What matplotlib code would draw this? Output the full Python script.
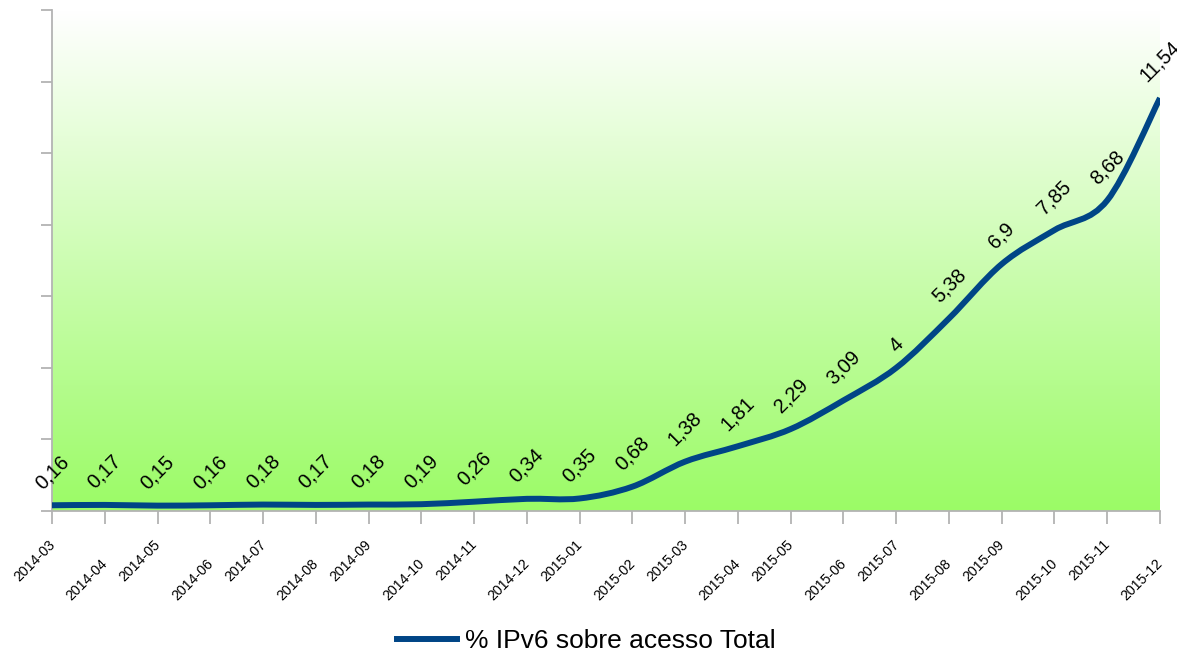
import numpy as np
import matplotlib
matplotlib.use('Agg')
import matplotlib.pyplot as plt
from matplotlib.path import Path
from matplotlib.patches import PathPatch
from matplotlib.lines import Line2D
from matplotlib.colors import LinearSegmentedColormap

plt.rcParams['font.family'] = ['Liberation Sans', 'DejaVu Sans']

### data

months = ['2014-03', '2014-04', '2014-05', '2014-06', '2014-07', '2014-08',
          '2014-09', '2014-10', '2014-11', '2014-12', '2015-01', '2015-02',
          '2015-03', '2015-04', '2015-05', '2015-06', '2015-07', '2015-08',
          '2015-09', '2015-10', '2015-11', '2015-12']
ipv6_pct = [0.16, 0.17, 0.15, 0.16, 0.18, 0.17, 0.18, 0.19, 0.26, 0.34, 0.35,
            0.68, 1.38, 1.81, 2.29, 3.09, 4, 5.38, 6.9, 7.85, 8.68, 11.54]
series_name = '% IPv6 sobre acesso Total'
y_ticks = [0, 2, 4, 6, 8, 10, 12, 14]

LINE_COLOR = '#004586'
AXIS_COLOR = '#b3b3b3'


def fmt_br(v):
    # decimal comma, no trailing zeros
    s = ('%g' % v)
    return s.replace('.', ',')


def smooth_path(xs, ys):
    '''catmull-rom through the points, drawn as cubic bezier segments'''
    pts = np.column_stack([xs, ys]).astype(float)
    n = len(pts)
    verts = [pts[0]]
    codes = [Path.MOVETO]
    for i in range(n - 1):
        p0 = pts[i - 1] if i > 0 else pts[i]
        p1 = pts[i]
        p2 = pts[i + 1]
        p3 = pts[i + 2] if i + 2 < n else pts[i + 1]
        c1 = p1 + (p2 - p0) / 6.0
        c2 = p2 - (p3 - p1) / 6.0
        verts += [c1, c2, p2]
        codes += [Path.CURVE4] * 3
    return Path(verts, codes)


### figure

W, H = 1177, 652
fig = plt.figure(figsize=(W / 100, H / 100), dpi=100, facecolor='white')
ax = fig.add_axes([52 / W, 1 - 511 / H, (1160 - 52) / W, (511 - 10) / H])

x = np.arange(len(months))

# gradient background
grad = np.linspace(0, 1, 256).reshape(-1, 1)
cmap = LinearSegmentedColormap.from_list('bg', ['#ffffff', '#9bfb66'])
ax.imshow(grad, aspect='auto', cmap=cmap, extent=(0, 1, 0, 1),
          transform=ax.transAxes, origin='upper', zorder=0)

# line
patch = PathPatch(smooth_path(x, ipv6_pct), facecolor='none',
                  edgecolor=LINE_COLOR, lw=4.3, capstyle='butt', zorder=3)
ax.add_patch(patch)

ax.set_xlim(0, len(months) - 1)
ax.set_ylim(0, 14)

# data labels
for xi, v in zip(x, ipv6_pct):
    ax.annotate(fmt_br(v), xy=(xi, v), xytext=(0, 9), textcoords='offset points',
                ha='center', va='bottom', rotation=45, fontsize=14.5,
                annotation_clip=False, zorder=4)

# axes styling
for side in ['top', 'right']:
    ax.spines[side].set_visible(False)
for side in ['left', 'bottom']:
    ax.spines[side].set_color(AXIS_COLOR)
    ax.spines[side].set_linewidth(1.3)
    ax.spines[side].set_zorder(2)

ax.set_yticks(y_ticks)
ax.set_yticklabels([])
ax.set_xticks(x)
ax.set_xticklabels([])
ax.tick_params(axis='both', direction='out', color=AXIS_COLOR, width=1.3)
ax.tick_params(axis='x', length=9.5)
ax.tick_params(axis='y', length=8)

# staggered month labels
for i, m in enumerate(months):
    dy = -19 if i % 2 == 0 else -33
    ax.annotate(m, xy=(i, 0), xycoords=('data', 'axes fraction'),
                xytext=(4, dy), textcoords='offset points',
                ha='right', va='top', rotation=45, fontsize=10.2,
                annotation_clip=False)

# legend
fig.legend(handles=[Line2D([], [], color=LINE_COLOR, lw=4.3)], labels=[series_name],
           loc='center', bbox_to_anchor=(0.498, 11 / H), frameon=False,
           fontsize=19, handlelength=2.3, handletextpad=0.3)

fig.savefig('out.png', dpi=100, facecolor='white')
